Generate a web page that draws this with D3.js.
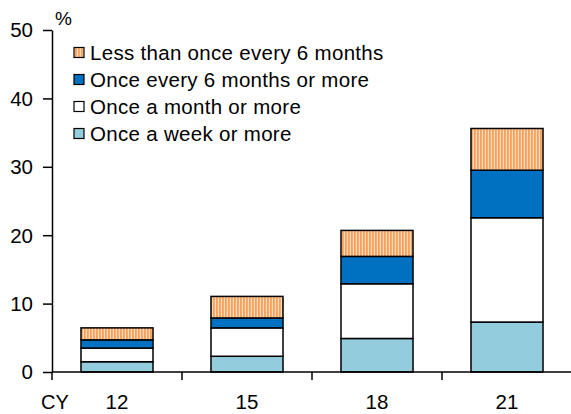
<!DOCTYPE html>
<html><head><meta charset="utf-8">
<script src="https://cdn.jsdelivr.net/npm/d3@7"></script>
<style>
html,body{margin:0;padding:0;background:#fff;}
text{font-family:"Liberation Sans",Arial,sans-serif;fill:#000;}
</style></head>
<body>
<svg id="chart" width="571" height="414"></svg>
<script>
const categories = ["12", "15", "18", "21"];
const seriesNames = ["Once a week or more", "Once a month or more", "Once every 6 months or more", "Less than once every 6 months"];
const weekly = [1.5, 2.3, 4.9, 7.3];
const monthly = [2.0, 4.15, 8.0, 15.25];
const sixMonthly = [1.2, 1.45, 4.0, 6.95];
const lessThan = [1.75, 3.15, 3.8, 6.1];
const yTicks = [0, 10, 20, 30, 40, 50];
const xLabelPrefix = "CY";
const yUnit = "%";

const svg = d3.select("#chart");
const fills = ["#93CDDD", "#FFFFFF", "#0070C0", "url(#stripes)"];

const defs = svg.append("defs");
const pat = defs.append("pattern").attr("id", "stripes").attr("patternUnits", "userSpaceOnUse")
  .attr("width", 3).attr("height", 6);
pat.append("rect").attr("width", 3).attr("height", 6).attr("fill", "#FDDCC0");
pat.append("rect").attr("width", 1.8).attr("height", 6).attr("fill", "#F8A05A");

const x = d3.scaleBand().domain(categories).range([52, 572]).paddingInner(0.446).paddingOuter(0.223);
const y = d3.scaleLinear().domain([0, 50]).range([372, 30]);

const rows = categories.map((c, i) => ({cat: c, vals: [weekly[i], monthly[i], sixMonthly[i], lessThan[i]]}));
const stack = d3.stack().keys([0, 1, 2, 3]).value((d, k) => d.vals[k]);
const layers = stack(rows);

// bars
const g = svg.append("g");
layers.forEach((layer, k) => {
  g.selectAll(null).data(layer).join("rect")
    .attr("x", d => x(d.data.cat))
    .attr("width", x.bandwidth())
    .attr("y", d => y(d[1]))
    .attr("height", d => y(d[0]) - y(d[1]))
    .attr("fill", fills[k])
    .attr("stroke", "#000")
    .attr("stroke-width", 1.5);
});

// y axis
const yAxis = d3.axisLeft(y).tickValues(yTicks).tickSize(9).tickPadding(10).tickSizeOuter(0);
const ya = svg.append("g").attr("transform", "translate(52,0)").call(yAxis);
ya.select(".domain").attr("stroke", "#000").attr("stroke-width", 1.5);
ya.selectAll(".tick line").attr("stroke", "#000").attr("stroke-width", 1.5);
ya.selectAll(".tick text").attr("font-size", 20.5).attr("font-family", "Liberation Sans, Arial, sans-serif").attr("dy", "0.34em");

// x axis
const bounds = d3.range(categories.length + 1).map(i => 52 + i * x.step());
const xa = svg.append("g").attr("transform", `translate(0,${y(0)})`);
xa.append("line").attr("x1", 52).attr("x2", 571).attr("stroke", "#000").attr("stroke-width", 1.5);
xa.selectAll(null).data(bounds).join("line")
  .attr("x1", d => d).attr("x2", d => d).attr("y1", 0).attr("y2", 8)
  .attr("stroke", "#000").attr("stroke-width", 1.5);
xa.selectAll(null).data(categories).join("text")
  .attr("x", d => x(d) + x.bandwidth() / 2).attr("y", 30)
  .attr("text-anchor", "middle").attr("font-size", 20.5).attr("dy", "0.34em")
  .text(d => d);
xa.append("text").attr("x", 41).attr("y", 30).attr("dy", "0.34em").attr("font-size", 20).text(xLabelPrefix);

svg.append("text").attr("x", 55).attr("y", 19).attr("dy", "0.34em").attr("font-size", 19).text(yUnit);

// legend
const legendOrder = [3, 2, 1, 0];
const lg = svg.append("g");
legendOrder.forEach((k, i) => {
  const cy = 52.5 + i * 27;
  lg.append("rect").attr("x", 74).attr("y", cy - 5).attr("width", 10).attr("height", 10)
    .attr("fill", fills[k]).attr("stroke", "#000").attr("stroke-width", 1.2);
  lg.append("text").attr("x", 90).attr("y", cy).attr("dy", "0.35em")
    .attr("font-size", 20.5).attr("letter-spacing", "0.3px").text(seriesNames[k]);
});
</script>
</body></html>
